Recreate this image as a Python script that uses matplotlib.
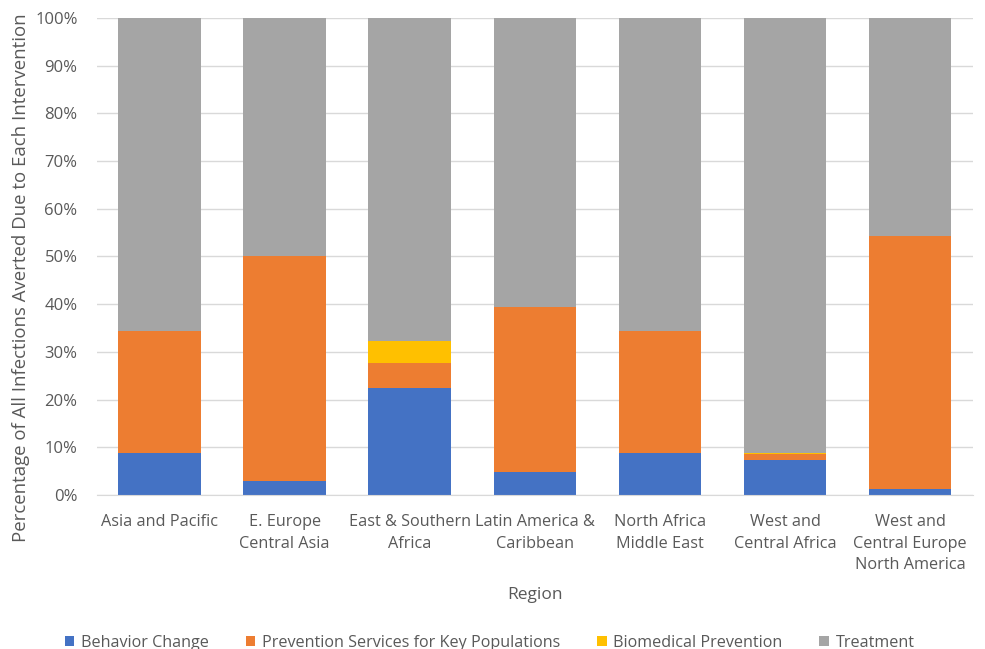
import matplotlib

matplotlib.use("Agg")

import matplotlib.pyplot as plt
import numpy as np

REGIONS = [
    "Asia and Pacific",
    "E. Europe\nCentral Asia",
    "East & Southern\nAfrica",
    "Latin America &\nCaribbean",
    "North Africa\nMiddle East",
    "West and\nCentral Africa",
    "West and\nCentral Europe\nNorth America",
]

SERIES = [
    "Behavior Change",
    "Prevention Services for Key Populations",
    "Biomedical Prevention",
    "Treatment",
]

behavior = [8.8, 2.9, 22.4, 4.8, 8.8, 7.3, 1.3]
prevention = [25.6, 47.2, 5.3, 34.6, 25.6, 1.2, 53.0]
biomedical = [0.0, 0.0, 4.6, 0.0, 0.0, 0.3, 0.0]
treatment = [100 - b - p - m for b, p, m in zip(behavior, prevention, biomedical)]

COLORS = ["#4472C4", "#ED7D31", "#FFC000", "#A5A5A5"]
TEXT = "#595959"

plt.rcParams["font.family"] = ["Open Sans", "DejaVu Sans"]

fig = plt.figure(figsize=(9.85, 6.49), dpi=100)
ax = fig.add_axes([0.0985, 0.2373, 0.889, 0.735])

x = np.arange(len(REGIONS))
bottom = np.zeros(len(REGIONS))
for name, vals, color in zip(SERIES, [behavior, prevention, biomedical, treatment], COLORS):
    vals = np.array(vals)
    ax.bar(x, vals, 0.66, bottom=bottom, color=color, label=name, zorder=2)
    bottom += vals

ax.set_xlim(-0.5, len(REGIONS) - 0.5)
ax.set_ylim(0, 100)
ax.set_yticks(range(0, 101, 10))
ax.set_yticklabels([f"{v}%" for v in range(0, 101, 10)])
ax.set_xticks(x)
ax.set_xticklabels(REGIONS, linespacing=1.45)
ax.tick_params(length=0, colors=TEXT)
ax.tick_params(axis="x", labelsize=11.7, pad=14)
ax.tick_params(axis="y", labelsize=12, pad=14)
ax.grid(axis="y", color="#D9D9D9", linewidth=1, zorder=0)
for side in ["top", "right", "left"]:
    ax.spines[side].set_visible(False)
ax.spines["bottom"].set_color("#D9D9D9")

ax.set_xlabel("Region", fontsize=12.5, color=TEXT, labelpad=10)
ax.set_ylabel("Percentage of All Infections Averted Due to Each Intervention",
              fontsize=13.4, color=TEXT)
ax.yaxis.set_label_coords(-0.077, 0.455)

fig.legend(loc="lower center", bbox_to_anchor=(0.497, -0.025), ncol=4, frameon=False,
           fontsize=11.6, labelcolor=TEXT, handlelength=0.6, handleheight=0.6,
           handletextpad=0.4, columnspacing=2.3)

fig.savefig("out.png", dpi=100)
